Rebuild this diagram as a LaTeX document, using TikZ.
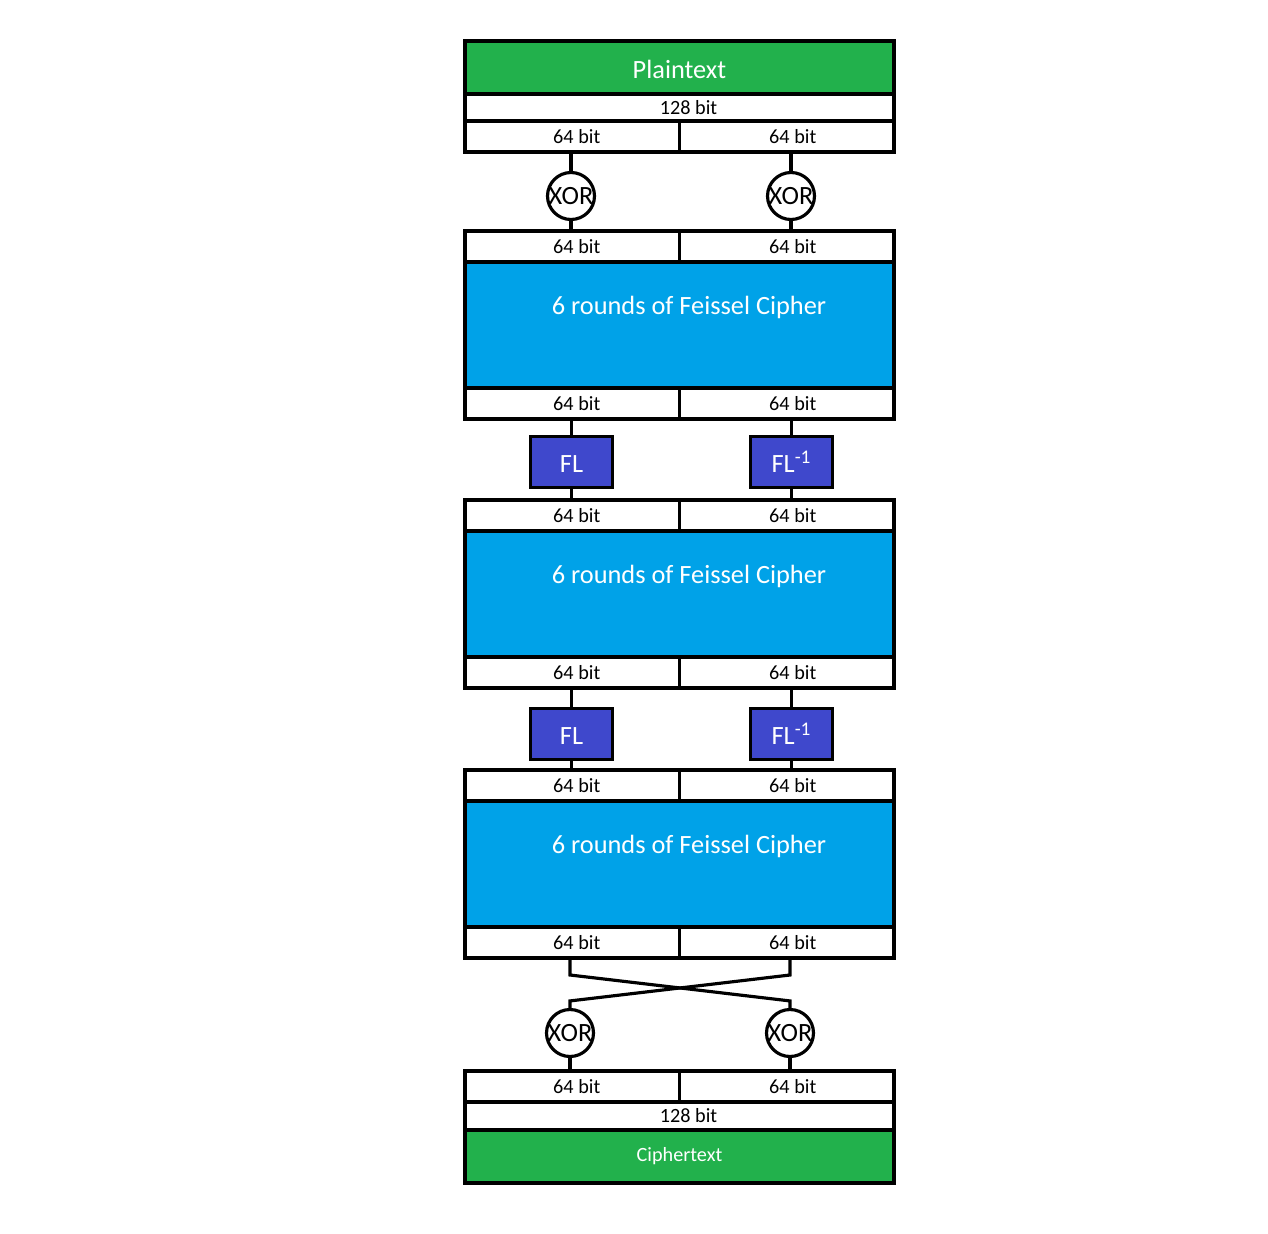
\documentclass[tikz,border=0pt]{standalone}
\usepackage{fontspec}
\setmainfont{Carlito}
\definecolor{plaingreen}{RGB}{34,177,76}
\definecolor{feisblue}{RGB}{0,162,232}
\definecolor{flblue}{RGB}{63,72,204}
\tikzset{
  cell/.style={draw, fill=white, line width=1.8pt, inner sep=0pt, outer sep=0pt,
    minimum width=4.29cm, minimum height=0.62cm, font=\fontsize{11.5}{13}\selectfont},
  lcell/.style={cell, execute at begin node={\hspace{0.18cm}}},
  rcell/.style={cell, execute at begin node={\hspace{0.24cm}}},
  wide/.style={cell, minimum width=8.58cm, minimum height=0.54cm},
  textbar/.style={wide, fill=plaingreen, text=white, minimum height=1.06cm},
  rounds/.style={wide, fill=feisblue, minimum height=2.52cm},
  xorgate/.style={circle, draw, fill=white, line width=1.8pt, minimum size=0.94cm, inner sep=0pt,
    label={[font=\fontsize{15}{18}\selectfont]center:XOR}},
  flbox/.style={draw, fill=flblue, line width=1.8pt, minimum width=1.64cm, minimum height=1.02cm,
    inner sep=0pt, text=white, font=\fontsize{15}{18}\selectfont, text height=0.42cm, text depth=0pt},
  wire/.style={line width=1.8pt}
}
\begin{document}
\begin{tikzpicture}[x=0.02cm, y=-0.02cm]
\useasboundingbox (0,0) rectangle (1268,1234);
% plaintext in
\node[textbar, font=\fontsize{15}{18}\selectfont, text height=0.45cm, text depth=0pt] (pt) at (679.5,67.5) {Plaintext};
\node[wide] (pt128) at (679.5,107.5) {\hspace{0.36cm}128 bit};
\node[lcell] (pl) at (572.25,136.5) {64 bit};
\node[rcell] (pr) at (786.75,136.5) {64 bit};
\node[xorgate] (x1l) at (571,196) {};
\node[xorgate] (x1r) at (791,196) {};
\draw[wire] (pl.south -| x1l) -- (x1l);
\draw[wire] (pr.south -| x1r) -- (x1r);
% three blocks of rounds
\foreach \b/\y in {A/231,B/500,C/770}{
  \node[lcell] (\b-in-l) at (572.25,\y+15.5) {64 bit};
  \node[rcell] (\b-in-r) at (786.75,\y+15.5) {64 bit};
  \node[rounds, label={[text=white, font=\fontsize{15}{18}\selectfont, xshift=0.19cm, yshift=0.36cm]center:6 rounds of Feissel Cipher}]
    (\b-f) at (679.5,\y+94) {};
  \node[lcell] (\b-out-l) at (572.25,\y+172.5) {64 bit};
  \node[rcell] (\b-out-r) at (786.75,\y+172.5) {64 bit};
}
\draw[wire] (x1l) -- (x1l |- A-in-l.north);
\draw[wire] (x1r) -- (x1r |- A-in-r.north);
% FL layers
\foreach \n/\y/\p/\q in {1/462/A/B,2/734/B/C}{
  \node[flbox] (fl\n) at (571.5,\y) {FL};
  \node[flbox] (fli\n) at (791.5,\y) {FL\textsuperscript{\fontsize{11}{13}\selectfont -1}};
  \draw[wire] (\p-out-l.south -| fl\n) -- (fl\n) -- (fl\n |- \q-in-l.north);
  \draw[wire] (\p-out-r.south -| fli\n) -- (fli\n) -- (fli\n |- \q-in-r.north);
}
% swap and output whitening
\node[xorgate] (x2l) at (570,1033) {};
\node[xorgate] (x2r) at (790,1033) {};
\draw[wire] (C-out-l.south -| x2l) -- ++(0,17) -- ([yshift=0.14cm]x2r.north) -- (x2r.north);
\draw[wire] (C-out-r.south -| x2r) -- ++(0,17) -- ([yshift=0.14cm]x2l.north) -- (x2l.north);
\node[lcell] (cl) at (572.25,1086.5) {64 bit};
\node[rcell] (cr) at (786.75,1086.5) {64 bit};
\node[wide, minimum height=0.56cm] (ct128) at (679.5,1116) {\hspace{0.36cm}128 bit};
\node[textbar] (ct) at (679.5,1156.5) {Ciphertext};
\draw[wire] (x2l) -- (x2l |- cl.north);
\draw[wire] (x2r) -- (x2r |- cr.north);
\end{tikzpicture}
\end{document}
